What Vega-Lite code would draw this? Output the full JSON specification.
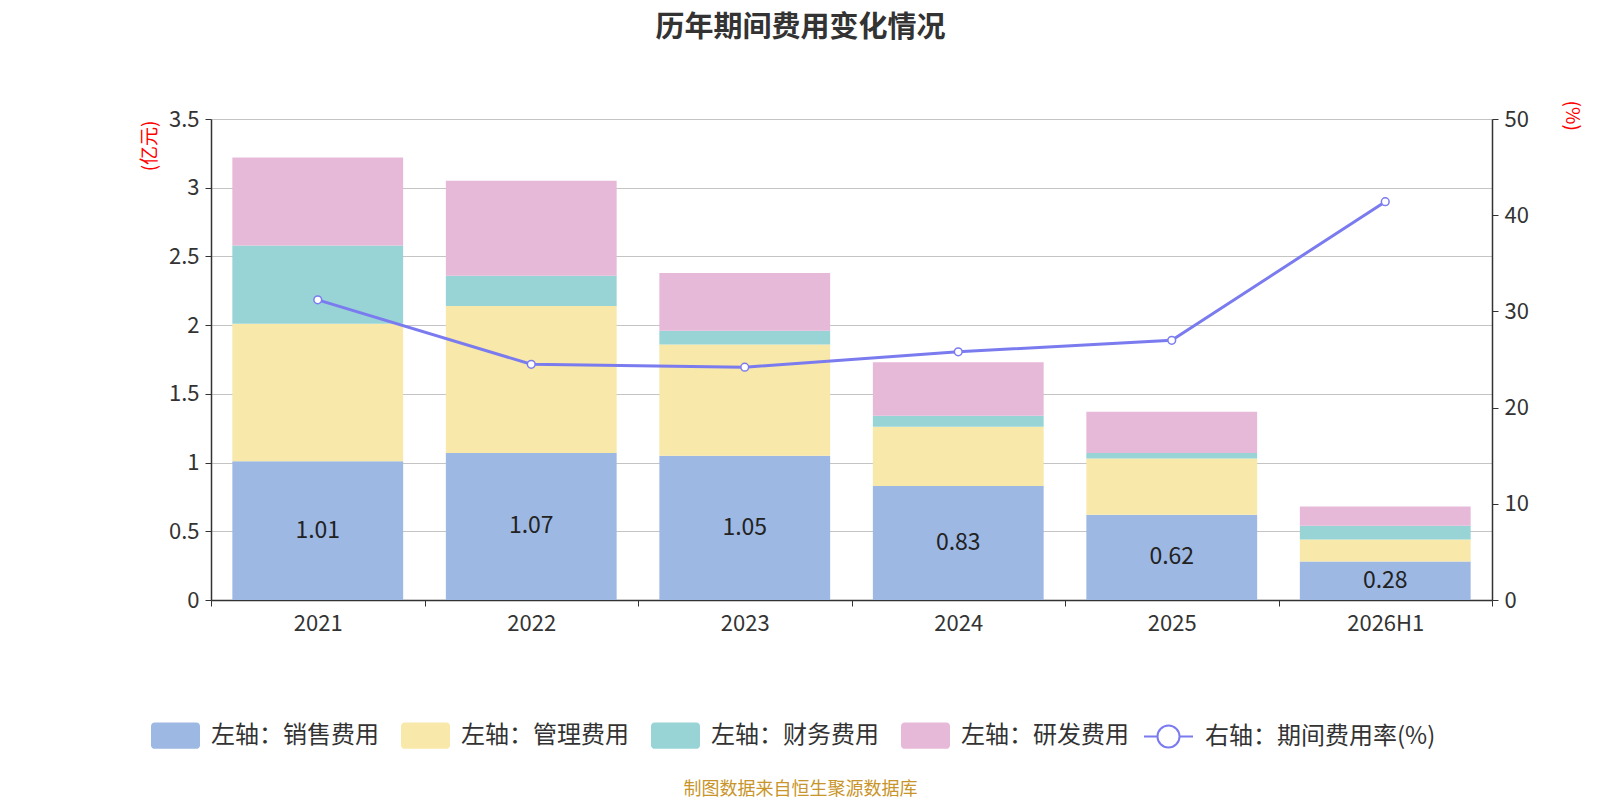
{
  "$schema": "https://vega.github.io/schema/vega-lite/v6.json",
  "autosize": {"type": "none"},
  "width": 1281,
  "height": 481,
  "padding": {"left": 211, "top": 119, "right": 108, "bottom": 200},
  "background": "white",
  "title": {
    "text": "历年期间费用变化情况",
    "fontSize": 29,
    "fontWeight": "bold",
    "color": "#333333",
    "font": "Noto Sans CJK SC",
    "anchor": "middle",
    "dx": -51,
    "offset": 57
  },
  "datasets": {
    "cost": [
      {"year": "2021", "type": "左轴：销售费用", "value": 1.01},
      {"year": "2021", "type": "左轴：管理费用", "value": 1.0},
      {"year": "2021", "type": "左轴：财务费用", "value": 0.57},
      {"year": "2021", "type": "左轴：研发费用", "value": 0.64},
      {"year": "2022", "type": "左轴：销售费用", "value": 1.07},
      {"year": "2022", "type": "左轴：管理费用", "value": 1.07},
      {"year": "2022", "type": "左轴：财务费用", "value": 0.22},
      {"year": "2022", "type": "左轴：研发费用", "value": 0.69},
      {"year": "2023", "type": "左轴：销售费用", "value": 1.05},
      {"year": "2023", "type": "左轴：管理费用", "value": 0.81},
      {"year": "2023", "type": "左轴：财务费用", "value": 0.1},
      {"year": "2023", "type": "左轴：研发费用", "value": 0.42},
      {"year": "2024", "type": "左轴：销售费用", "value": 0.83},
      {"year": "2024", "type": "左轴：管理费用", "value": 0.43},
      {"year": "2024", "type": "左轴：财务费用", "value": 0.08},
      {"year": "2024", "type": "左轴：研发费用", "value": 0.39},
      {"year": "2025", "type": "左轴：销售费用", "value": 0.62},
      {"year": "2025", "type": "左轴：管理费用", "value": 0.41},
      {"year": "2025", "type": "左轴：财务费用", "value": 0.04},
      {"year": "2025", "type": "左轴：研发费用", "value": 0.3},
      {"year": "2026H1", "type": "左轴：销售费用", "value": 0.28},
      {"year": "2026H1", "type": "左轴：管理费用", "value": 0.16},
      {"year": "2026H1", "type": "左轴：财务费用", "value": 0.1},
      {"year": "2026H1", "type": "左轴：研发费用", "value": 0.14}
    ],
    "rate": [
      {"year": "2021", "series": "右轴：期间费用率(%)", "rate": 31.2},
      {"year": "2022", "series": "右轴：期间费用率(%)", "rate": 24.5},
      {"year": "2023", "series": "右轴：期间费用率(%)", "rate": 24.2},
      {"year": "2024", "series": "右轴：期间费用率(%)", "rate": 25.8},
      {"year": "2025", "series": "右轴：期间费用率(%)", "rate": 27.0},
      {"year": "2026H1", "series": "右轴：期间费用率(%)", "rate": 41.4}
    ]
  },
  "encoding": {
    "x": {
      "field": "year",
      "type": "nominal",
      "sort": null,
      "scale": {"paddingInner": 0, "paddingOuter": 0},
      "axis": {
        "labelAngle": 0,
        "labelFontSize": 22,
        "labelColor": "#333333",
        "labelPadding": 7,
        "tickBand": "extent",
        "tickSize": 6,
        "tickColor": "#333333",
        "domainColor": "#333333",
        "domainWidth": 1.5,
        "title": "制图数据来自恒生聚源数据库",
        "titleFontSize": 18,
        "titleFontWeight": "normal",
        "titleColor": "#c8952a",
        "titleX": 589,
        "titleY": 189,
        "titleAlign": "center",
        "titleBaseline": "middle"
      }
    }
  },
  "layer": [
    {
      "data": {"name": "cost"},
      "transform": [
        {"calculate": "indexof(['左轴：销售费用', '左轴：管理费用', '左轴：财务费用', '左轴：研发费用'], datum.type)", "as": "stackOrder"}
      ],
      "mark": {"type": "bar", "width": {"band": 0.8}},
      "encoding": {
        "y": {
          "field": "value",
          "type": "quantitative",
          "stack": "zero",
          "scale": {"domain": [0, 3.5]},
          "axis": {
            "values": [0, 0.5, 1, 1.5, 2, 2.5, 3, 3.5],
            "format": "~g",
            "labelFontSize": 22,
            "labelColor": "#333333",
            "labelPadding": 6,
            "tickSize": 6,
            "tickColor": "#333333",
            "domainColor": "#333333",
            "domainWidth": 1.5,
            "gridColor": "#c4c4c4",
            "gridWidth": 1.2,
            "title": "(亿元)",
            "titleColor": "red",
            "titleFontSize": 19,
            "titleFontWeight": "normal",
            "titleAngle": -90,
            "titleX": -62,
            "titleY": 1,
            "titleAlign": "right",
            "titleBaseline": "middle"
          }
        },
        "color": {
          "field": "type",
          "type": "nominal",
          "scale": {
            "domain": ["左轴：销售费用", "左轴：管理费用", "左轴：财务费用", "左轴：研发费用"],
            "range": ["#9db8e2", "#f8e8a9", "#98d4d6", "#e7b9d9"]
          },
          "legend": {
            "title": null,
            "orient": "none",
            "direction": "horizontal",
            "legendX": -60,
            "legendY": 592,
            "symbolType": "M-0.85,-0.54 L0.85,-0.54 A0.15,0.15 0 0 1 1,-0.39 L1,0.39 A0.15,0.15 0 0 1 0.85,0.54 L-0.85,0.54 A0.15,0.15 0 0 1 -1,0.39 L-1,-0.39 A0.15,0.15 0 0 1 -0.85,-0.54 Z",
            "symbolSize": 2401,
            "symbolStrokeWidth": 0,
            "symbolOpacity": 1,
            "labelFontSize": 24,
            "labelColor": "#333333",
            "labelOffset": 11,
            "columnPadding": 22,
            "labelLimit": 300
          }
        },
        "order": {"field": "stackOrder", "type": "quantitative", "sort": "ascending"}
      }
    },
    {
      "data": {"name": "cost"},
      "transform": [
        {"filter": "datum.type === '左轴：销售费用'"},
        {"calculate": "datum.value / 2", "as": "mid"}
      ],
      "mark": {"type": "text", "fontSize": 23, "color": "#222222", "baseline": "middle"},
      "encoding": {
        "y": {"field": "mid", "type": "quantitative", "scale": {"domain": [0, 3.5]}, "axis": null},
        "text": {"field": "value", "type": "quantitative", "format": ".2f"}
      }
    },
    {
      "data": {"name": "rate"},
      "layer": [
        {
          "mark": {"type": "line", "strokeWidth": 3},
          "encoding": {
            "stroke": {
              "field": "series",
              "type": "nominal",
              "scale": {"range": ["#7b7bf0"]},
              "legend": {
                "title": null,
                "orient": "none",
                "legendX": 932,
                "legendY": 592,
                "symbolType": "M-1,0 L-0.45,0 M0.45,0 L1,0 M-0.45,0 A0.45,0.45 0 1,1 0.45,0 A0.45,0.45 0 1,1 -0.45,0",
                "symbolSize": 2401,
                "symbolStrokeWidth": 2,
                "symbolFillColor": "white",
                "labelFontSize": 24,
                "labelColor": "#333333",
                "labelOffset": 11,
                "labelLimit": 300
              }
            }
          }
        },
        {
          "mark": {"type": "point", "filled": true, "fill": "white", "stroke": "#7b7bf0", "strokeWidth": 1.5, "size": 60, "opacity": 1}
        }
      ],
      "encoding": {
        "y": {
          "field": "rate",
          "type": "quantitative",
          "scale": {"domain": [0, 50]},
          "axis": {
            "orient": "right",
            "values": [0, 10, 20, 30, 40, 50],
            "grid": false,
            "labelFontSize": 22,
            "labelColor": "#333333",
            "labelPadding": 6,
            "tickSize": 6,
            "tickColor": "#333333",
            "domainColor": "#333333",
            "domainWidth": 1.5,
            "title": "(%)",
            "titleColor": "red",
            "titleFontSize": 19,
            "titleFontWeight": "normal",
            "titleAngle": 90,
            "titleX": 79,
            "titleY": -19,
            "titleAlign": "left",
            "titleBaseline": "middle"
          }
        }
      }
    }
  ],
  "resolve": {"scale": {"y": "independent", "color": "independent"}},
  "config": {
    "font": "Noto Sans CJK SC",
    "view": {"stroke": null},
    "axis": {"labelFont": "Noto Sans CJK SC", "titleFont": "Noto Sans CJK SC"},
    "legend": {"labelFont": "Noto Sans CJK SC"}
  }
}
